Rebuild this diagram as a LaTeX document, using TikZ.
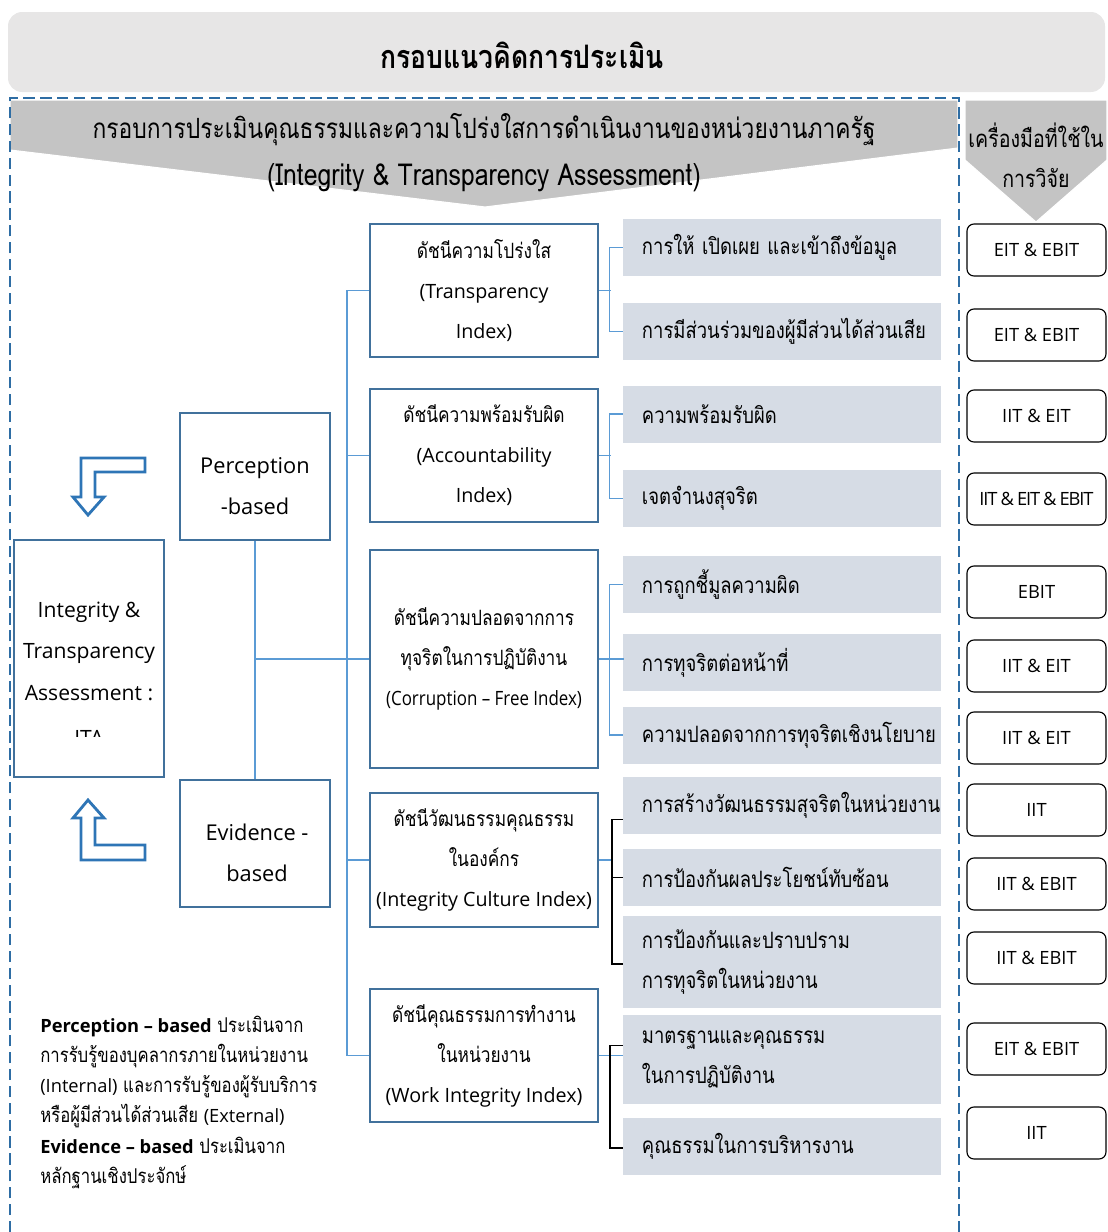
\documentclass[tikz,border=0pt]{standalone}
\usepackage{fontspec}
\setmainfont[Script=Thai, FakeStretch=0.82]{Loma}
\newfontfamily\lat{Open Sans}
\newfontfamily\latc[FakeStretch=0.86]{Open Sans}
\newcommand\en[1]{{\lat\fontsize{13}{21.4}\selectfont #1}}
\usetikzlibrary{positioning}
\definecolor{idxblue}{HTML}{41719C}
\definecolor{lineblue}{HTML}{5B9BD5}
\definecolor{dashblue}{HTML}{2E6DA4}
\definecolor{arrowblue}{HTML}{2E75B6}
\definecolor{catfill}{HTML}{D6DCE5}
\definecolor{bannerfill}{HTML}{E7E6E6}
\definecolor{arrowgray}{HTML}{C4C4C4}

\begin{document}
\begin{tikzpicture}[x=0.025cm, y=-0.025cm,
	index/.style={draw=idxblue, line width=1.8pt, fill=white, minimum width=5.7cm, minimum height=3.325cm, align=center, font=\fontsize{15}{28.5}\selectfont},
	cat/.style={fill=catfill, minimum width=7.95cm, minimum height=1.425cm, text width=7.0cm, inner xsep=0.475cm, align=left, font=\fontsize{16}{29}\selectfont},
	tool/.style={draw, rounded corners=5pt, line width=0.8pt, minimum width=3.475cm, minimum height=1.3cm, font=\lat\fontsize{13}{16}\selectfont},
	base/.style={draw=idxblue, line width=1.8pt, minimum width=3.75cm, minimum height=3.175cm},
	basetxt/.style={align=center, font=\lat\fontsize{15.5}{29.5}\selectfont},
	conn/.style={draw=lineblue, line width=0.8pt},
	brace/.style={draw=black, line width=1.3pt},
	hollow/.style={draw=arrowblue, line width=2pt, fill=white},
	grayarrow/.style={fill=arrowgray, draw=white, line width=0.8pt},
	dashbox/.style={draw=dashblue, line width=2pt, dash pattern=on 8pt off 4pt}
]
	\useasboundingbox (0,0) rectangle (1107,1232);

	% banner
	\fill[bannerfill, rounded corners=10pt] (8,12) rectangle (1105,92);
	\node[font=\bfseries\fontsize{23}{26}\selectfont] (title) at (522,55) {กรอบแนวคิดการประเมิน};

	% grey arrows
	\filldraw[grayarrow] (10,100) -- (958,100) -- (958,148) -- (485,207) -- (10,150) -- cycle;
	\node[font=\fontsize{19.8}{24}\selectfont] (frame) at (484,130) {กรอบการประเมินคุณธรรมและความโปร่งใสการดำเนินงานของหน่วยงานภาครัฐ};
	\node[font=\fontsize{21.5}{24}\selectfont] (frame en) at (484,178) {(Integrity \& Transparency Assessment)};

	\filldraw[grayarrow] (965,100) -- (1107,100) -- (1107,160) -- (1036,222) -- (965,160) -- cycle;
	\node[font=\fontsize{17}{24}\selectfont] (tools) at (1036,135) {เครื่องมือที่ใช้ใน};
	\node[font=\fontsize{17}{24}\selectfont] (tools b) at (1036,178) {การวิจัย};

	\draw[dashbox] (10,1232) -- (10,98) -- (959,98) -- (959,1232);

	% left part
	\draw[hollow] (145,458) -- (81,458) -- (81,497) -- (73,497) -- (88,515) -- (104,497) -- (95,497) -- (95,472) -- (145,472) -- cycle;
	\draw[hollow] (145,860) -- (81,860) -- (81,818) -- (73,818) -- (88,800) -- (104,818) -- (95,818) -- (95,845) -- (145,845) -- cycle;

	\node[base, minimum height=5.925cm] (ita) at (89,658.5) {};
	\node[basetxt, font=\lat\fontsize{15}{29.5}\selectfont] (ita txt) at (89,651) {Integrity \&\\ Transparency\\ Assessment :};
	\begin{scope}
		\clip (20,712) rectangle (160,736);
		\node[font=\lat\fontsize{15}{20}\selectfont] (ita cut) at (89,738) {ITA};
	\end{scope}

	\node[base] (pb) at (255,476.5) {};
	\node[basetxt] (pb txt) at (255,486) {Perception\\ -based};
	\node[base] (eb) at (255,843.5) {};
	\node[basetxt] (eb txt) at (257,853) {Evidence -\\ based};

	% indices
	\node[index] (ti) at (484,290.5) {ดัชนีความโปร่งใส\\ {\lat\fontsize{14}{28.5}\selectfont (Transparency}\\ {\lat\fontsize{14}{28.5}\selectfont Index)}};
	\node[index] (ai) at (484,455.5) {ดัชนีความพร้อมรับผิด\\ {\lat\fontsize{14}{28.5}\selectfont (Accountability}\\ {\lat\fontsize{14}{28.5}\selectfont Index)}};
	\node[index, minimum height=5.45cm] (ci) at (484,659) {ดัชนีความปลอดจากการ\\ ทุจริตในการปฏิบัติงาน\\ {\latc\fontsize{14}{28.5}\selectfont (Corruption – Free Index)}};
	\node[index, minimum height=3.35cm] (ii) at (484,860) {ดัชนีวัฒนธรรมคุณธรรม\\ ในองค์กร\\ {\lat\fontsize{14}{28.5}\selectfont (Integrity Culture Index)}};
	\node[index] (wi) at (484,1055.5) {ดัชนีคุณธรรมการทำงาน\\ ในหน่วยงาน\\ {\lat\fontsize{14}{28.5}\selectfont (Work Integrity Index)}};

	% categories
	\node[cat] (c1) at (782,247.5) {การให้ เปิดเผย และเข้าถึงข้อมูล};
	\node[cat] (c2) at (782,331.5) {การมีส่วนร่วมของผู้มีส่วนได้ส่วนเสีย};
	\node[cat] (c3) at (782,414) {ความพร้อมรับผิด};
	\node[cat] (c4) at (782,498.5) {เจตจำนงสุจริต};
	\node[cat] (c5) at (782,584.5) {การถูกชี้มูลความผิด};
	\node[cat] (c6) at (782,662.5) {การทุจริตต่อหน้าที่};
	\node[cat] (c7) at (782,735) {ความปลอดจากการทุจริตเชิงนโยบาย};
	\node[cat] (c8) at (782,805.5) {การสร้างวัฒนธรรมสุจริตในหน่วยงาน};
	\node[cat] (c9) at (782,877.5) {การป้องกันผลประโยชน์ทับซ้อน};
	\node[cat, minimum height=2.3cm] (c10) at (782,962) {การป้องกันและปราบปราม\\ การทุจริตในหน่วยงาน};
	\node[cat, minimum height=2.225cm] (c11) at (782,1059.5) {มาตรฐานและคุณธรรม\\ ในการปฏิบัติงาน};
	\node[cat] (c12) at (782,1146.5) {คุณธรรมในการบริหารงาน};

	% tools
	\node[tool] (t1) at (1036.5,250) {EIT \& EBIT};
	\node[tool] (t2) at (1036.5,335) {EIT \& EBIT};
	\node[tool] (t3) at (1036.5,416) {IIT \& EIT};
	\node[tool, font=\lat\fontsize{13}{16}\selectfont\addfontfeatures{LetterSpace=-6}] (t4) at (1036.5,499) {IIT\,\&\,EIT\,\&\,EBIT};
	\node[tool] (t5) at (1036.5,592) {EBIT};
	\node[tool] (t6) at (1036.5,666) {IIT \& EIT};
	\node[tool] (t7) at (1036.5,738) {IIT \& EIT};
	\node[tool] (t8) at (1036.5,810) {IIT};
	\node[tool] (t9) at (1036.5,884) {IIT \& EBIT};
	\node[tool] (t10) at (1036.5,958) {IIT \& EBIT};
	\node[tool] (t11) at (1036.5,1049) {EIT \& EBIT};
	\node[tool] (t12) at (1036.5,1133) {IIT};

	% connectors
	\coordinate (trunk) at (347,0);
	\draw[conn] (pb.south) -- (eb.north);
	\draw[conn] (pb.south |- ci.west) -- (ci.west);
	\draw[conn] (ti.west) -| (trunk |- wi.west) -- (wi.west);
	\draw[conn] (ai.west) -- (ai.west -| trunk);
	\draw[conn] (ii.west) -- (ii.west -| trunk);

	\draw[conn] (ti.east) -- ++(12,0);
	\draw[conn] (c1.west) -- ++(-13,0) |- (c2.west);
	\draw[conn] (ai.east) -- ++(12,0);
	\draw[conn] (c3.west) -- ++(-13,0) |- (c4.west);
	\draw[conn] (ci.east) -- ++(25,0);
	\draw[conn] (c5.west) -- ++(-13,0) |- (c7.west);
	\draw[conn] (ii.east) -- ++(14,0);
	\draw[brace] (c8.west) ++(0,14) -- ++(-11,0) |- ([yshift=-1.2cm]c10.north west);
	\draw[brace] (c9.west) -- ++(-11,0);
	\draw[conn] (wi.east) -- (wi.east -| c11.west);
	\draw[brace] (c11.west) ++(0,-14) -- ++(-13,0) |- ([yshift=-1pt]c12.west);

	% note
	\node[anchor=north west, align=left, inner sep=0pt, font=\fontsize{14.5}{21.4}\selectfont] (note) at (40,1016) {{\lat\bfseries\fontsize{13}{21.4}\selectfont Perception – based} ประเมินจาก\\ การรับรู้ของบุคลากรภายในหน่วยงาน\\ \en{(Internal)} และการรับรู้ของผู้รับบริการ\\ หรือผู้มีส่วนได้ส่วนเสีย \en{(External)}\\ {\lat\bfseries\fontsize{13}{21.4}\selectfont Evidence – based} ประเมินจาก\\ หลักฐานเชิงประจักษ์};
\end{tikzpicture}
\end{document}
